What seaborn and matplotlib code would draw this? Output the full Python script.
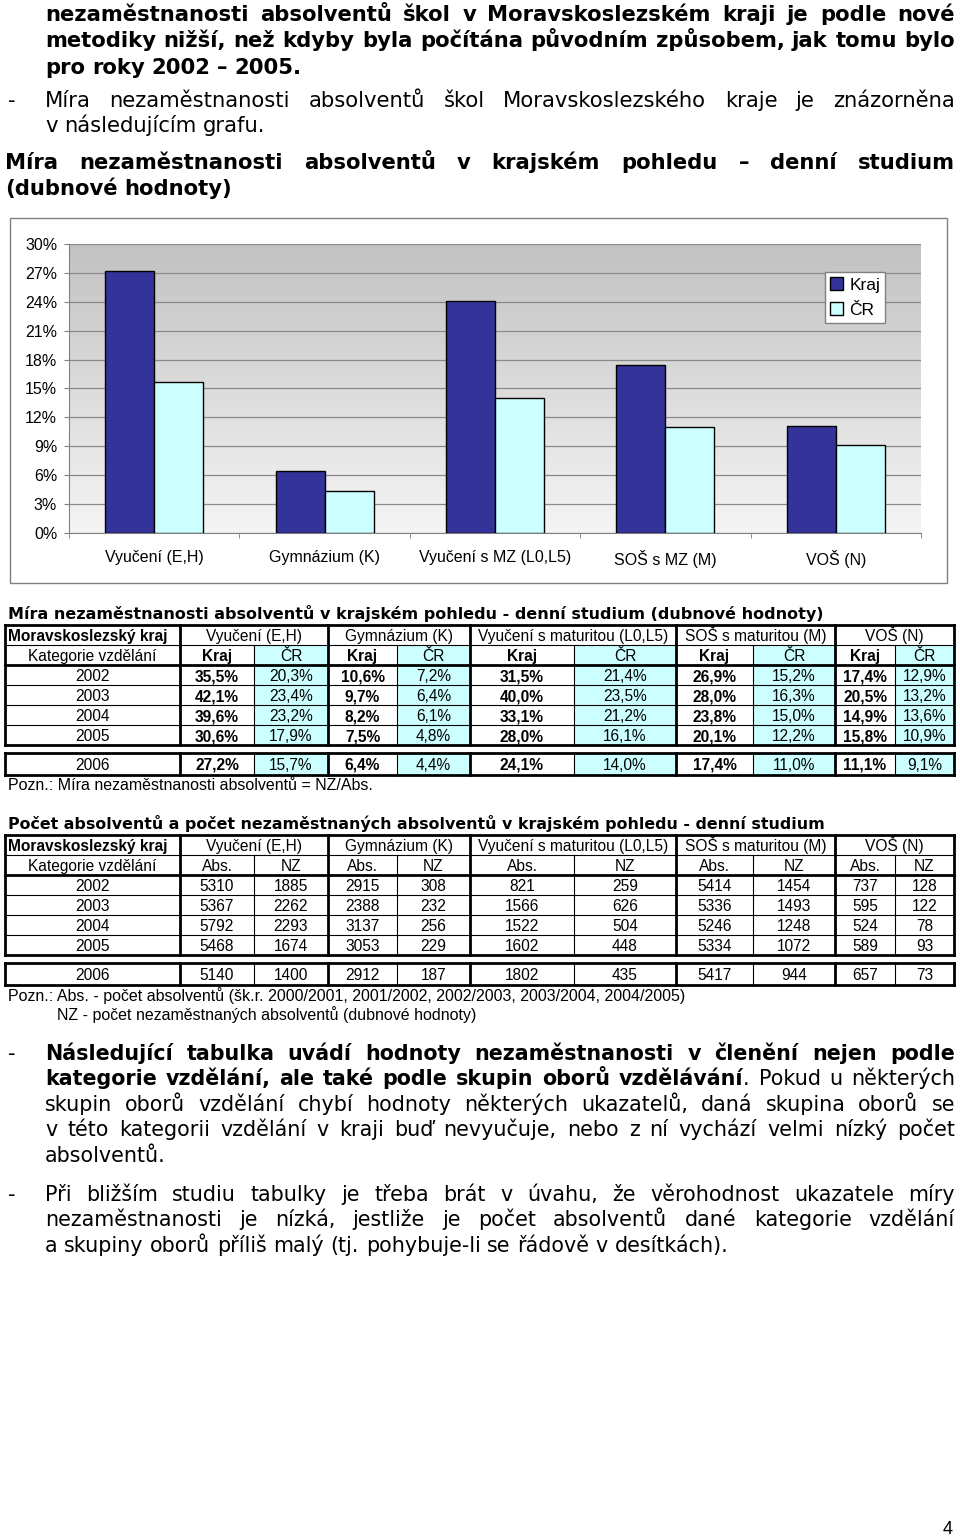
import numpy as np
import pandas as pd
import seaborn as sns
import matplotlib
matplotlib.use("Agg")
import matplotlib.pyplot as plt
from matplotlib.patches import Rectangle
from matplotlib.colors import LinearSegmentedColormap

W, H = 960, 1540

# data - mira nezamestnanosti (%) po rocich, poradi: Kraj/CR pro kazdou skupinu
roky = ["2002", "2003", "2004", "2005", "2006"]
mira_2002 = [35.5, 20.3, 10.6, 7.2, 31.5, 21.4, 26.9, 15.2, 17.4, 12.9]
mira_2003 = [42.1, 23.4, 9.7, 6.4, 40.0, 23.5, 28.0, 16.3, 20.5, 13.2]
mira_2004 = [39.6, 23.2, 8.2, 6.1, 33.1, 21.2, 23.8, 15.0, 14.9, 13.6]
mira_2005 = [30.6, 17.9, 7.5, 4.8, 28.0, 16.1, 20.1, 12.2, 15.8, 10.9]
mira_2006 = [27.2, 15.7, 6.4, 4.4, 24.1, 14.0, 17.4, 11.0, 11.1, 9.1]

# pocty absolventu (Abs.) a nezamestnanych (NZ)
pocet_2002 = [5310, 1885, 2915, 308, 821, 259, 5414, 1454, 737, 128]
pocet_2003 = [5367, 2262, 2388, 232, 1566, 626, 5336, 1493, 595, 122]
pocet_2004 = [5792, 2293, 3137, 256, 1522, 504, 5246, 1248, 524, 78]
pocet_2005 = [5468, 1674, 3053, 229, 1602, 448, 5334, 1072, 589, 93]
pocet_2006 = [5140, 1400, 2912, 187, 1802, 435, 5417, 944, 657, 73]

kategorie = ["Vyučení (E,H)", "Gymnázium (K)", "Vyučení s MZ (L0,L5)", "SOŠ s MZ (M)", "VOŠ (N)"]
skupiny = ["Vyučení (E,H)", "Gymnázium (K)", "Vyučení s maturitou (L0,L5)",
           "SOŠ s maturitou (M)", "VOŠ (N)"]
kraj_graf = mira_2006[0::2]
cr_graf = mira_2006[1::2]

fig = plt.figure(figsize=(W / 100, H / 100), dpi=100)
fig.patch.set_facecolor("white")

# overlay v pixelech
ax0 = fig.add_axes([0, 0, 1, 1])
ax0.set_xlim(0, W)
ax0.set_ylim(H, 0)
ax0.axis("off")
r = fig.canvas.get_renderer()

TEXT = "DejaVu Sans"
ARIAL = "Liberation Sans"
PS = 15.2  # velikost pisma odstavcu


def sirka(text, size, weight="normal", family=TEXT):
    t = ax0.text(0, 0, text, fontsize=size, fontweight=weight, family=family)
    w = t.get_window_extent(renderer=r).width
    t.remove()
    return w


def slova_z(segmenty):
    words = []
    cur = []
    for text, w in segmenty:
        parts = text.split(" ")
        for i, p in enumerate(parts):
            if i > 0 and cur:
                words.append(cur)
                cur = []
            if p:
                cur.append((p, w))
    if cur:
        words.append(cur)
    return words


def radek(y, x0, x1, segmenty, size=PS, justify=True):
    words = slova_z(segmenty)
    s = size
    while True:
        ws = [[sirka(p, s, w) for p, w in word] for word in words]
        total = sum(sum(a) for a in ws)
        mezera = s * 100 / 72 * 0.32
        if not justify or len(words) < 2:
            gap = mezera
            break
        gap = (x1 - x0 - total) / (len(words) - 1)
        if gap >= mezera * 0.75:
            break
        s -= 0.2
    x = x0
    yb = y + 0.37 * s * 100 / 72
    for word, wl in zip(words, ws):
        for (p, w), pw in zip(word, wl):
            ax0.text(x, yb, p, fontsize=s, fontweight=w, family=TEXT, va="baseline", ha="left")
            x += pw
        x += gap


def odstavec(y0, krok, x0, x1, radky, size=PS, posledni_volny=True):
    for i, seg in enumerate(radky):
        just = not (posledni_volny and i == len(radky) - 1)
        radek(y0 + i * krok, x0, x1, seg, size=size, justify=just)


# horni text
odstavec(13, 26.5, 45, 955, [
    [("nezaměstnanosti absolventů škol v Moravskoslezském kraji je podle nové", "bold")],
    [("metodiky nižší, než kdyby byla počítána původním způsobem, jak tomu bylo", "bold")],
    [("pro roky 2002 – 2005.", "bold")],
])
radek(99, 8, 20, [("-", "normal")], justify=False)
odstavec(99, 25.5, 45, 955, [
    [("Míra nezaměstnanosti absolventů škol Moravskoslezského kraje je znázorněna", "normal")],
    [("v následujícím grafu.", "normal")],
])
odstavec(161, 26, 5, 955, [
    [("Míra nezaměstnanosti absolventů v krajském pohledu – denní studium", "bold")],
    [("(dubnové hodnoty)", "bold")],
])

# ramecek grafu
ax0.add_patch(Rectangle((10, 218), 937, 365, facecolor="white", edgecolor="#808080", lw=1))

# graf
ax = fig.add_axes([69 / W, 1 - 533 / H, (921 - 69) / W, (533 - 244) / H])
df = pd.DataFrame({
    "kategorie": kategorie * 2,
    "hodnota": kraj_graf + cr_graf,
    "oblast": ["Kraj"] * 5 + ["ČR"] * 5,
})
sns.barplot(data=df, x="kategorie", y="hodnota", hue="oblast",
            palette=["#333399", "#CCFFFF"], saturation=1, edgecolor="black",
            linewidth=1, width=0.575, ax=ax, zorder=3)
gradient = LinearSegmentedColormap.from_list("g", ["#C2C2C2", "#F5F5F5"])
ax.imshow(np.linspace(0, 1, 256).reshape(-1, 1), cmap=gradient, extent=(-0.5, 4.5, 0, 30),
          aspect="auto", origin="upper", zorder=0)
ax.set_xlim(-0.5, 4.5)
ax.set_ylim(0, 30)
ax.set_yticks(range(0, 31, 3))
ax.set_yticklabels([f"{v}%" for v in range(0, 31, 3)], fontsize=11.5, family=ARIAL)
ax.set_xticks(range(5))
ax.set_xticklabels(kategorie, fontsize=11.5, family=ARIAL)
ax.set_xticks([-0.5, 0.5, 1.5, 2.5, 3.5, 4.5], minor=True)
ax.tick_params(axis="x", which="major", length=0, pad=12)
ax.tick_params(axis="x", which="minor", length=3.5, color="#808080")
ax.tick_params(axis="y", length=3.5, color="#808080", pad=5)
ax.yaxis.grid(True, color="#8a8a8a", linewidth=0.9)
ax.set_axisbelow(True)
ax.set_xlabel("")
ax.set_ylabel("")
for s in ["top", "right"]:
    ax.spines[s].set_visible(False)
for s in ["left", "bottom"]:
    ax.spines[s].set_color("#808080")
ax.patch.set_alpha(0)
handles, labels = ax.get_legend_handles_labels()
ax.legend(handles, labels, loc="upper left", bbox_to_anchor=(825 / W, 1 - 272 / H),
          bbox_transform=fig.transFigure, fancybox=False, edgecolor="#808080",
          framealpha=1, handlelength=0.75, handleheight=0.75, handletextpad=0.35,
          borderpad=0.3, labelspacing=0.55, borderaxespad=0,
          prop={"family": ARIAL, "size": 12.5})

# tabulky
col_x = [5, 180, 254, 328, 397, 470, 574, 676, 753, 835, 895, 954]
TL = 2.0
TN = 0.8
FS = 11.2
POSUN = 6  # od stredu radku k uctari


def bunka(x, yc, text, weight="normal", ha="center"):
    ax0.text(x, yc + POSUN, text, fontsize=FS, fontweight=weight, family=ARIAL,
             va="baseline", ha=ha)


def tabulka(top, nazev, sloupce, data, fmt, azur, tucne_kraj, sirka_nazvu):
    s = 11 * sirka_nazvu / sirka(nazev, 11, "bold")
    ax0.text(8, top - 12, nazev, fontsize=s, fontweight="bold", family=TEXT, va="center")
    ys = [top + 20 * i for i in range(7)]
    y6 = (top + 128, top + 150)
    if azur:
        for g in range(5):
            x0, x1 = col_x[2 + 2 * g], col_x[3 + 2 * g]
            ax0.add_patch(Rectangle((x0, ys[1]), x1 - x0, ys[6] - ys[1], color="#CCFFFF", lw=0))
            ax0.add_patch(Rectangle((x0, y6[0]), x1 - x0, y6[1] - y6[0], color="#CCFFFF", lw=0))
    # vodorovne
    for i, y in enumerate(ys):
        lw = TL if i in (0, 2, 6) else TN
        ax0.plot([col_x[0], col_x[-1]], [y, y], color="black", lw=lw, solid_capstyle="projecting")
    for y in y6:
        ax0.plot([col_x[0], col_x[-1]], [y, y], color="black", lw=TL, solid_capstyle="projecting")
    # svisle
    for j, x in enumerate(col_x):
        silna = j in (0, 1, 3, 5, 7, 9, 11)
        y_start = ys[0] if silna else ys[1]
        ax0.plot([x, x], [y_start, ys[6]], color="black", lw=TL if silna else TN)
        ax0.plot([x, x], [y6[0], y6[1]], color="black", lw=TL if silna else TN)
    bunka(8, (ys[0] + ys[1]) / 2, "Moravskoslezský kraj", "bold", ha="left")
    for g, nm in enumerate(skupiny):
        xc = (col_x[1 + 2 * g] + col_x[3 + 2 * g]) / 2
        bunka(xc, (ys[0] + ys[1]) / 2, nm)
    bunka((col_x[0] + col_x[1]) / 2, (ys[1] + ys[2]) / 2, "Kategorie vzdělání")
    for k in range(10):
        xc = (col_x[1 + k] + col_x[2 + k]) / 2
        w = "bold" if (tucne_kraj and k % 2 == 0) else "normal"
        bunka(xc, (ys[1] + ys[2]) / 2, sloupce[k % 2], w)
    for i, (rok, hodnoty) in enumerate(zip(roky, data)):
        yc = (ys[2 + i] + ys[3 + i]) / 2 if i < 4 else (y6[0] + y6[1]) / 2
        bunka((col_x[0] + col_x[1]) / 2, yc, rok)
        for k, v in enumerate(hodnoty):
            xc = (col_x[1 + k] + col_x[2 + k]) / 2
            w = "bold" if (tucne_kraj and k % 2 == 0) else "normal"
            bunka(xc, yc, fmt(v), w)


tabulka(625, "Míra nezaměstnanosti absolventů v krajském pohledu - denní studium (dubnové hodnoty)",
        ["Kraj", "ČR"], [mira_2002, mira_2003, mira_2004, mira_2005, mira_2006],
        lambda v: f"{v:.1f}%".replace(".", ","), True, True, 809)
ax0.text(8, 785, "Pozn.: Míra nezaměstnanosti absolventů = NZ/Abs.", fontsize=11.5,
         family=ARIAL, va="center")

tabulka(835, "Počet absolventů a počet nezaměstnaných absolventů v krajském pohledu - denní studium",
        ["Abs.", "NZ"], [pocet_2002, pocet_2003, pocet_2004, pocet_2005, pocet_2006],
        lambda v: str(v), False, False, 815)
ax0.text(8, 996, "Pozn.: Abs. - počet absolventů (šk.r. 2000/2001, 2001/2002, 2002/2003, 2003/2004, 2004/2005)",
         fontsize=11.5, family=ARIAL, va="center")
ax0.text(57, 1015, "NZ - počet nezaměstnaných absolventů (dubnové hodnoty)", fontsize=11.5,
         family=ARIAL, va="center")

# dolni text
radek(1052, 8, 20, [("-", "normal")], justify=False)
odstavec(1052, 25.5, 45, 955, [
    [("Následující tabulka uvádí hodnoty nezaměstnanosti v členění nejen podle", "bold")],
    [("kategorie vzdělání, ale také podle skupin oborů vzdělávání", "bold"),
     (". Pokud u některých", "normal")],
    [("skupin oborů vzdělání chybí hodnoty některých ukazatelů, daná skupina oborů se", "normal")],
    [("v této kategorii vzdělání v kraji buď nevyučuje, nebo z ní vychází velmi nízký počet", "normal")],
    [("absolventů.", "normal")],
], size=14.9)
radek(1193, 8, 20, [("-", "normal")], justify=False)
odstavec(1193, 25.5, 45, 955, [
    [("Při bližším studiu tabulky je třeba brát v úvahu, že věrohodnost ukazatele míry", "normal")],
    [("nezaměstnanosti je nízká, jestliže je počet absolventů dané kategorie vzdělání", "normal")],
    [("a skupiny oborů příliš malý (tj. pohybuje-li se řádově v desítkách).", "normal")],
], size=14.9)

ax0.text(948, 1530, "4", fontsize=13, family=ARIAL, va="center", ha="center")

fig.savefig("out.png", dpi=100)
